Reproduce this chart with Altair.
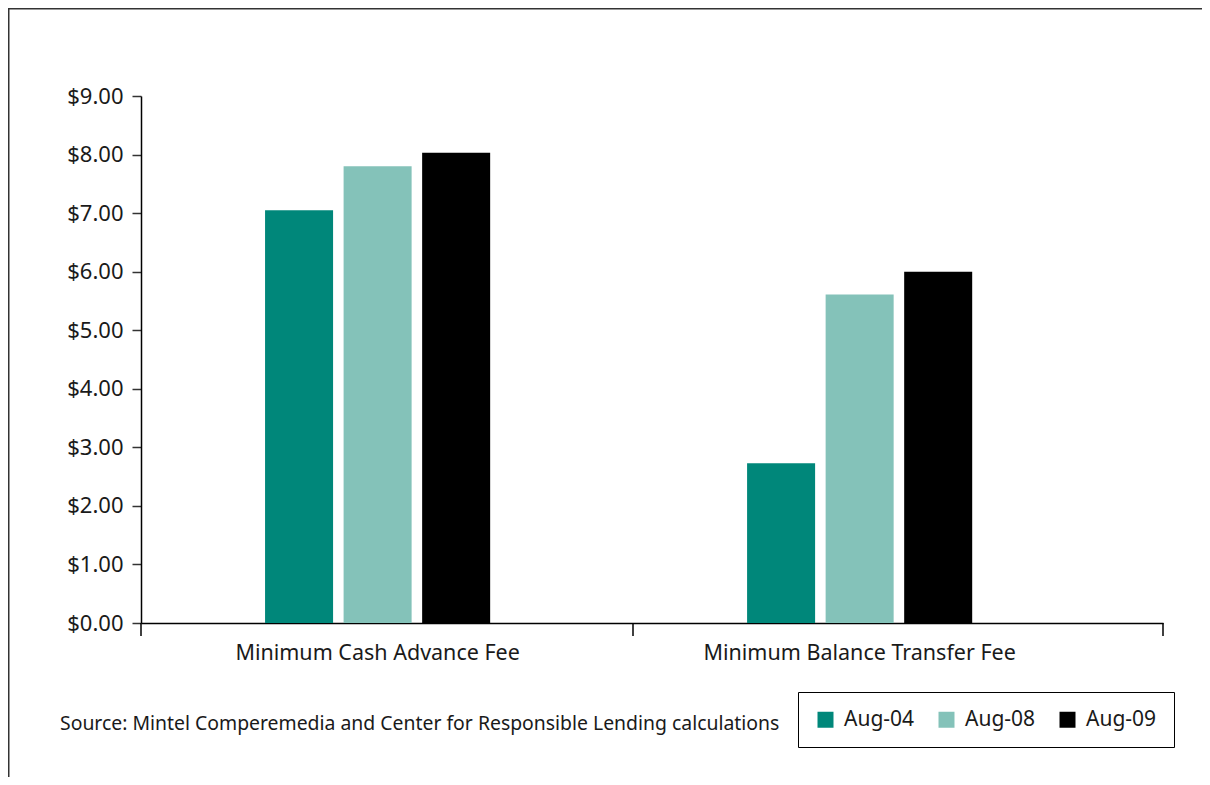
import altair as alt
import pandas as pd

categories = ["Minimum Cash Advance Fee", "Minimum Balance Transfer Fee"]
series = ["Aug-04", "Aug-08", "Aug-09"]
aug04 = [7.05, 2.73]
aug08 = [7.80, 5.61]
aug09 = [8.03, 6.00]
colors = ["#00877A", "#84C2B9", "#000000"]
y_ticks = [0, 1, 2, 3, 4, 5, 6, 7, 8, 9]
source_note = ["Source: Mintel Comperemedia and Center for Responsible Lending calculations"]

rows = []
for s, vals in zip(series, [aug04, aug08, aug09]):
    for c, v in zip(categories, vals):
        rows.append({"category": c, "series": s, "value": v})
df = pd.DataFrame(rows)

FONT = "Noto Sans"
TXT = "#1a1a1a"

W, H = 1022, 527

bars = alt.Chart(df).mark_bar().encode(
    x=alt.X("category:N", sort=categories,
            scale=alt.Scale(paddingInner=0.533, paddingOuter=0.3266, align=0.394),
            axis=alt.Axis(title=None, labelAngle=0, ticks=False, labelPadding=19,
                          labelFontSize=21.5, labelFont=FONT, labelColor=TXT, labelLimit=0,
                          domainColor="#000", domainWidth=1.5)),
    xOffset=alt.XOffset("series:N", sort=series,
                        scale=alt.Scale(paddingInner=0.134, paddingOuter=0)),
    y=alt.Y("value:Q", scale=alt.Scale(domain=[0, 9], nice=False),
            axis=alt.Axis(title=None, values=y_ticks, format="$.2f", grid=False,
                          tickSize=9, tickColor="#333", tickWidth=1.5,
                          domainColor="#000", domainWidth=1.5,
                          labelFontSize=22, labelFont=FONT, labelColor=TXT,
                          labelPadding=9)),
    color=alt.Color("series:N", sort=series,
                    scale=alt.Scale(domain=series, range=colors),
                    legend=alt.Legend(title=None, orient="none", legendX=657, legendY=596,
                                      direction="horizontal", strokeColor="#000",
                                      fillColor="#fff", padding=17,
                                      symbolType="square", symbolSize=256,
                                      symbolStrokeWidth=0, labelFontSize=21,
                                      labelFont=FONT, labelColor=TXT, labelOffset=8,
                                      columnPadding=21)),
)

# x-axis tick marks at category boundaries
tick_pos = pd.DataFrame({"px": [0, 492, 1022]})
xticks = alt.Chart(tick_pos).mark_rule(color="#000", strokeWidth=1.5).encode(
    x=alt.X("px:Q", scale=alt.Scale(domain=[0, W], range=[0, W]), axis=None),
    y=alt.value(H), y2=alt.value(H + 13),
)

# outer frame (top and left)
frame_top = alt.Chart(pd.DataFrame({"a": [0]})).mark_rule(color="#333", strokeWidth=2).encode(
    x=alt.value(-135), x2=alt.value(W + 45), y=alt.value(-87.5))
frame_left = alt.Chart(pd.DataFrame({"a": [0]})).mark_rule(color="#333", strokeWidth=2).encode(
    x=alt.value(-132.5), y=alt.value(-90), y2=alt.value(H + 200))

note = alt.Chart(pd.DataFrame({"t": source_note})).mark_text(
    align="left", baseline="middle", fontSize=19.4, font=FONT, color=TXT
).encode(text="t:N", x=alt.value(-81), y=alt.value(628))

chart = alt.layer(frame_top, frame_left, bars, xticks, note).resolve_scale(
    x="independent"
).properties(
    width=W, height=H,
    background="#ffffff",
    autosize=alt.AutoSizeParams(type="none"),
    padding={"left": 133, "top": 88, "right": 39, "bottom": 154},
).configure_view(strokeWidth=0, stroke=None)

chart.save("out.html", embed_options={"renderer": "svg", "actions": False})
